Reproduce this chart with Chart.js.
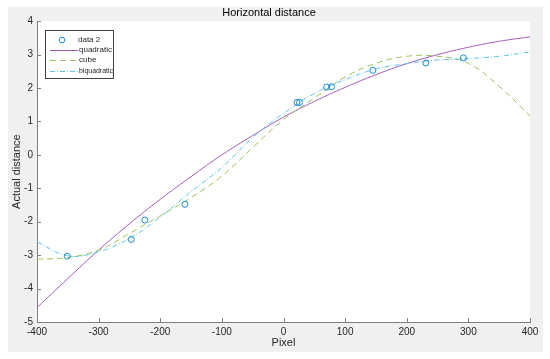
<!DOCTYPE html>
<html>
<head>
<meta charset="utf-8">
<script src="https://cdn.jsdelivr.net/npm/chart.js@4.4.1/dist/chart.umd.min.js"></script>
<style>
  html, body { margin: 0; padding: 0; background: #fff; }
  #wrap { position: relative; width: 550px; height: 359px; }
</style>
</head>
<body>
<div id="wrap"><canvas id="chart" width="550" height="359"></canvas></div>
<script>
// measured points (pixel -> actual distance)
const dataX = [-351, -247, -225, -160, 22, 26, 70, 78, 145, 231, 292];
const dataY = [-3.03, -2.53, -1.95, -1.48, 1.57, 1.57, 2.03, 2.04, 2.53, 2.75, 2.9];

// fitted curves, every 50 px
const fitX = [-400, -350, -300, -250, -200, -150, -100, -50, 0, 50, 100, 150, 200, 250, 300, 350, 400];
const quadratic = [-4.57, -3.7, -2.85, -2.06, -1.33, -0.65, 0.0, 0.58, 1.13, 1.6, 2.02, 2.4, 2.73, 3.0, 3.22, 3.4, 3.53];
const cube = [-3.12, -3.07, -2.85, -2.35, -1.82, -1.28, -0.63, 0.22, 1.06, 1.7, 2.33, 2.74, 2.95, 2.95, 2.74, 2.05, 1.17];
const biquadratic = [-2.6, -3.02, -2.9, -2.5, -1.86, -1.1, -0.38, 0.52, 1.24, 1.84, 2.25, 2.57, 2.73, 2.84, 2.88, 2.95, 3.08];

const xTicks = [-400, -300, -200, -100, 0, 100, 200, 300, 400];
const yTicks = [-5, -4, -3, -2, -1, 0, 1, 2, 3, 4];

const FONT = "'Liberation Sans', Arial, Helvetica, sans-serif";
const AXIS = '#7f7f7f';
const TEXT = '#262626';

function pts(xs, ys) {
  return xs.map((x, i) => ({ x: x, y: ys[i] }));
}

// grey figure background, white axes area
const background = {
  id: 'background',
  beforeDraw(chart) {
    const ctx = chart.ctx;
    const a = chart.chartArea;
    ctx.save();
    ctx.fillStyle = '#f0f0f0';
    ctx.fillRect(8, 7, 535, 345);
    ctx.fillStyle = '#fff';
    ctx.fillRect(a.left, a.top, a.right - a.left, a.bottom - a.top);
    ctx.restore();
  }
};

// matlab style inward ticks
const innerTicks = {
  id: 'innerTicks',
  afterDatasetsDraw(chart) {
    const ctx = chart.ctx;
    const a = chart.chartArea;
    const xs = chart.scales.x, ys = chart.scales.y;
    ctx.save();
    ctx.strokeStyle = AXIS;
    ctx.lineWidth = 1;
    ctx.beginPath();
    xTicks.forEach(v => {
      const px = Math.round(xs.getPixelForValue(v)) + 0.5;
      ctx.moveTo(px, a.bottom);
      ctx.lineTo(px, a.bottom - 4);
    });
    yTicks.forEach(v => {
      const py = Math.round(ys.getPixelForValue(v)) + 0.5;
      ctx.moveTo(a.left, py);
      ctx.lineTo(a.left + 4, py);
    });
    ctx.stroke();
    ctx.restore();
  }
};

// legend box in the upper left corner
const boxLegend = {
  id: 'boxLegend',
  afterDraw(chart) {
    const ctx = chart.ctx;
    const ds = chart.data.datasets;
    ctx.save();
    ctx.fillStyle = '#fff';
    ctx.fillRect(45, 30, 69, 49);
    ctx.strokeStyle = '#404040';
    ctx.lineWidth = 1;
    ctx.strokeRect(45.5, 30.5, 68, 48);
    ctx.font = '8px ' + FONT;
    ctx.textBaseline = 'middle';
    ctx.fillStyle = TEXT;
    const rows = [40, 50, 60, 71];
    ds.forEach((d, i) => {
      const y = rows[i];
      ctx.strokeStyle = d.borderColor;
      if (d.showLine === false) {
        ctx.lineWidth = 1;
        ctx.beginPath();
        ctx.arc(62, y, 2.8, 0, Math.PI * 2);
        ctx.stroke();
      } else {
        ctx.lineWidth = 1;
        ctx.setLineDash(d.borderDash || []);
        ctx.beginPath();
        ctx.moveTo(50, y + 0.5);
        ctx.lineTo(78, y + 0.5);
        ctx.stroke();
        ctx.setLineDash([]);
      }
      ctx.fillText(d.label, i === 0 ? 78 : 79, y, 34);
    });
    ctx.restore();
  }
};

new Chart(document.getElementById('chart'), {
  type: 'scatter',
  data: {
    datasets: [
      {
        label: 'data 2',
        data: pts(dataX, dataY),
        showLine: false,
        borderColor: '#1a8ad4',
        backgroundColor: 'rgba(0,0,0,0)',
        pointRadius: 3,
        pointBorderWidth: 1,
        order: 0
      },
      {
        label: 'quadratic',
        data: pts(fitX, quadratic),
        showLine: true,
        borderColor: '#a45cbc',
        borderWidth: 1,
        pointRadius: 0,
        tension: 0.4,
        order: 3
      },
      {
        label: 'cube',
        data: pts(fitX, cube),
        showLine: true,
        borderColor: '#98c45a',
        borderWidth: 1,
        borderDash: [6, 4],
        pointRadius: 0,
        tension: 0.4,
        order: 2
      },
      {
        label: 'biquadratic',
        data: pts(fitX, biquadratic),
        showLine: true,
        borderColor: '#5ec4ee',
        borderWidth: 1,
        borderDash: [5, 2, 1, 2],
        pointRadius: 0,
        tension: 0.4,
        order: 1
      }
    ]
  },
  options: {
    responsive: false,
    animation: false,
    layout: { padding: { left: 8, right: 20, top: 4, bottom: 7 } },
    plugins: {
      legend: { display: false },
      tooltip: { enabled: false },
      title: {
        display: true,
        text: 'Horizontal distance',
        color: '#000',
        font: { family: FONT, size: 11, weight: 'normal' },
        padding: { top: 2, bottom: 2 }
      }
    },
    scales: {
      x: {
        type: 'linear',
        min: -400,
        max: 400,
        afterBuildTicks(s) { s.ticks = xTicks.map(v => ({ value: v })); },
        afterFit(s) { s.height = 30; },
        grid: { drawOnChartArea: false, drawTicks: false },
        border: { display: true, color: AXIS, width: 1 },
        ticks: { color: TEXT, padding: 4, font: { family: FONT, size: 10 } },
        title: {
          display: true,
          text: 'Pixel',
          color: TEXT,
          font: { family: FONT, size: 11 },
          padding: { top: 0, bottom: 2 }
        }
      },
      y: {
        type: 'linear',
        min: -5,
        max: 4,
        afterBuildTicks(s) { s.ticks = yTicks.map(v => ({ value: v })); },
        afterFit(s) { s.width = 29; },
        grid: { drawOnChartArea: false, drawTicks: false },
        border: { display: true, color: AXIS, width: 1 },
        ticks: { color: TEXT, padding: 4, font: { family: FONT, size: 10 } },
        title: {
          display: true,
          text: 'Actual distance',
          color: TEXT,
          font: { family: FONT, size: 11 },
          padding: { top: 2, bottom: 0 }
        }
      }
    }
  },
  plugins: [background, innerTicks, boxLegend]
});
</script>
</body>
</html>
